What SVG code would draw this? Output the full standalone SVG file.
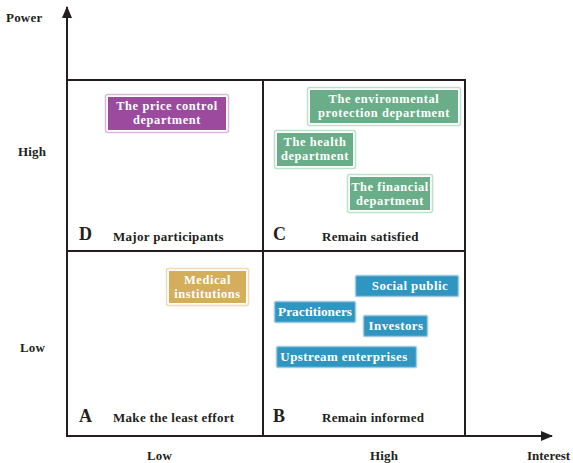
<svg xmlns="http://www.w3.org/2000/svg" width="573" height="463" viewBox="0 0 573 463">
<style>
text{font-family:"Liberation Serif","Times New Roman",serif;font-weight:bold;fill:#231f20}
.ax{font-size:13px;letter-spacing:0.2px}
.q{font-size:13px;letter-spacing:0.3px}
.L{font-size:18px}
.n text{fill:#fff;font-size:13px;letter-spacing:0.4px;text-anchor:middle}
.n text.m{font-size:12.4px;letter-spacing:0.6px}
.line{stroke:#231f20;stroke-width:2;fill:none}
</style>
<defs>
<marker id="ah" viewBox="0 0 12 10" refX="11" refY="5" markerWidth="12" markerHeight="10" orient="auto" markerUnits="userSpaceOnUse">
<path d="M0,0L12,5L0,10z" fill="#231f20"/>
</marker>
</defs>
<rect width="573" height="463" fill="#fff"/>
<g id="connectors">
<line class="line" x1="67" y1="437" x2="67" y2="7" marker-end="url(#ah)"/>
<line class="line" x1="66" y1="436" x2="552" y2="436" marker-end="url(#ah)"/>
<path d="M67,80H465V436M67,251H465M263,80V436" class="line"/>
</g>
<g id="labels">
<text class="ax" x="6" y="22">Power</text>
<text class="ax" x="18" y="156">High</text>
<text class="ax" x="20" y="352">Low</text>
<text class="ax" x="147" y="460">Low</text>
<text class="ax" x="370" y="460">High</text>
<text class="ax" x="527" y="460" style="letter-spacing:0">Interest</text>
<text class="L" x="79" y="240">D</text>
<text class="q" x="113" y="241">Major participants</text>
<text class="L" x="273" y="240">C</text>
<text class="q" x="322" y="241">Remain satisfied</text>
<text class="L" x="79" y="422">A</text>
<text class="q" x="113" y="422">Make the least effort</text>
<text class="L" x="273" y="422">B</text>
<text class="q" x="322" y="422">Remain informed</text>
</g>
<g id="price" class="n">
<rect x="105.5" y="94.5" width="123" height="38" rx="2" fill="none" stroke="#d9b8da" stroke-width="1.5"/>
<rect x="108" y="97" width="118" height="33" fill="#9b4a9e"/>
<text class="m" x="167" y="110">The price control</text><text class="m" x="167" y="124">department</text>
</g>
<g id="env" class="n">
<rect x="307.5" y="87.5" width="153" height="38" rx="2" fill="none" stroke="#bfe0cc" stroke-width="1.5"/>
<rect x="310" y="90" width="148" height="33" fill="#69ae88"/>
<text class="m" x="384" y="103">The environmental</text><text class="m" x="384" y="117">protection department</text>
</g>
<g id="health" class="n">
<rect x="274.5" y="130.5" width="81" height="38" rx="2" fill="none" stroke="#bfe0cc" stroke-width="1.5"/>
<rect x="277" y="133" width="76" height="33" fill="#69ae88"/>
<text class="m" x="315" y="146">The health</text><text class="m" x="315" y="160">department</text>
</g>
<g id="fin" class="n">
<rect x="347.5" y="174.5" width="85" height="38" rx="2" fill="none" stroke="#bfe0cc" stroke-width="1.5"/>
<rect x="350" y="177" width="80" height="33" fill="#69ae88"/>
<text class="m" x="390" y="191">The financial</text><text class="m" x="390" y="205">department</text>
</g>
<g id="medical" class="n">
<rect x="166.5" y="268.5" width="82" height="37" rx="2" fill="none" stroke="#eddcb3" stroke-width="1.5"/>
<rect x="169" y="271" width="77" height="32" fill="#d4ae5b"/>
<text class="m" x="207.5" y="284">Medical</text><text class="m" x="207.5" y="298">institutions</text>
</g>
<g id="social" class="n">
<rect x="355.5" y="275.5" width="103" height="21" rx="1.5" fill="#2f95c1" stroke="#9fcbe2" stroke-width="1.5"/>
<text x="410" y="290">Social public</text>
</g>
<g id="pract" class="n">
<rect x="274.5" y="301.5" width="81" height="21" rx="1.5" fill="#2f95c1" stroke="#9fcbe2" stroke-width="1.5"/>
<text x="315" y="316" textLength="74" lengthAdjust="spacingAndGlyphs" style="letter-spacing:0">Practitioners</text>
</g>
<g id="invest" class="n">
<rect x="363.5" y="315.5" width="64" height="21" rx="1.5" fill="#2f95c1" stroke="#9fcbe2" stroke-width="1.5"/>
<text x="396" y="330">Investors</text>
</g>
<g id="upstream" class="n">
<rect x="276.5" y="346.5" width="140" height="21" rx="1.5" fill="#2f95c1" stroke="#9fcbe2" stroke-width="1.5"/>
<text x="344" y="361">Upstream enterprises</text>
</g>
</svg>
